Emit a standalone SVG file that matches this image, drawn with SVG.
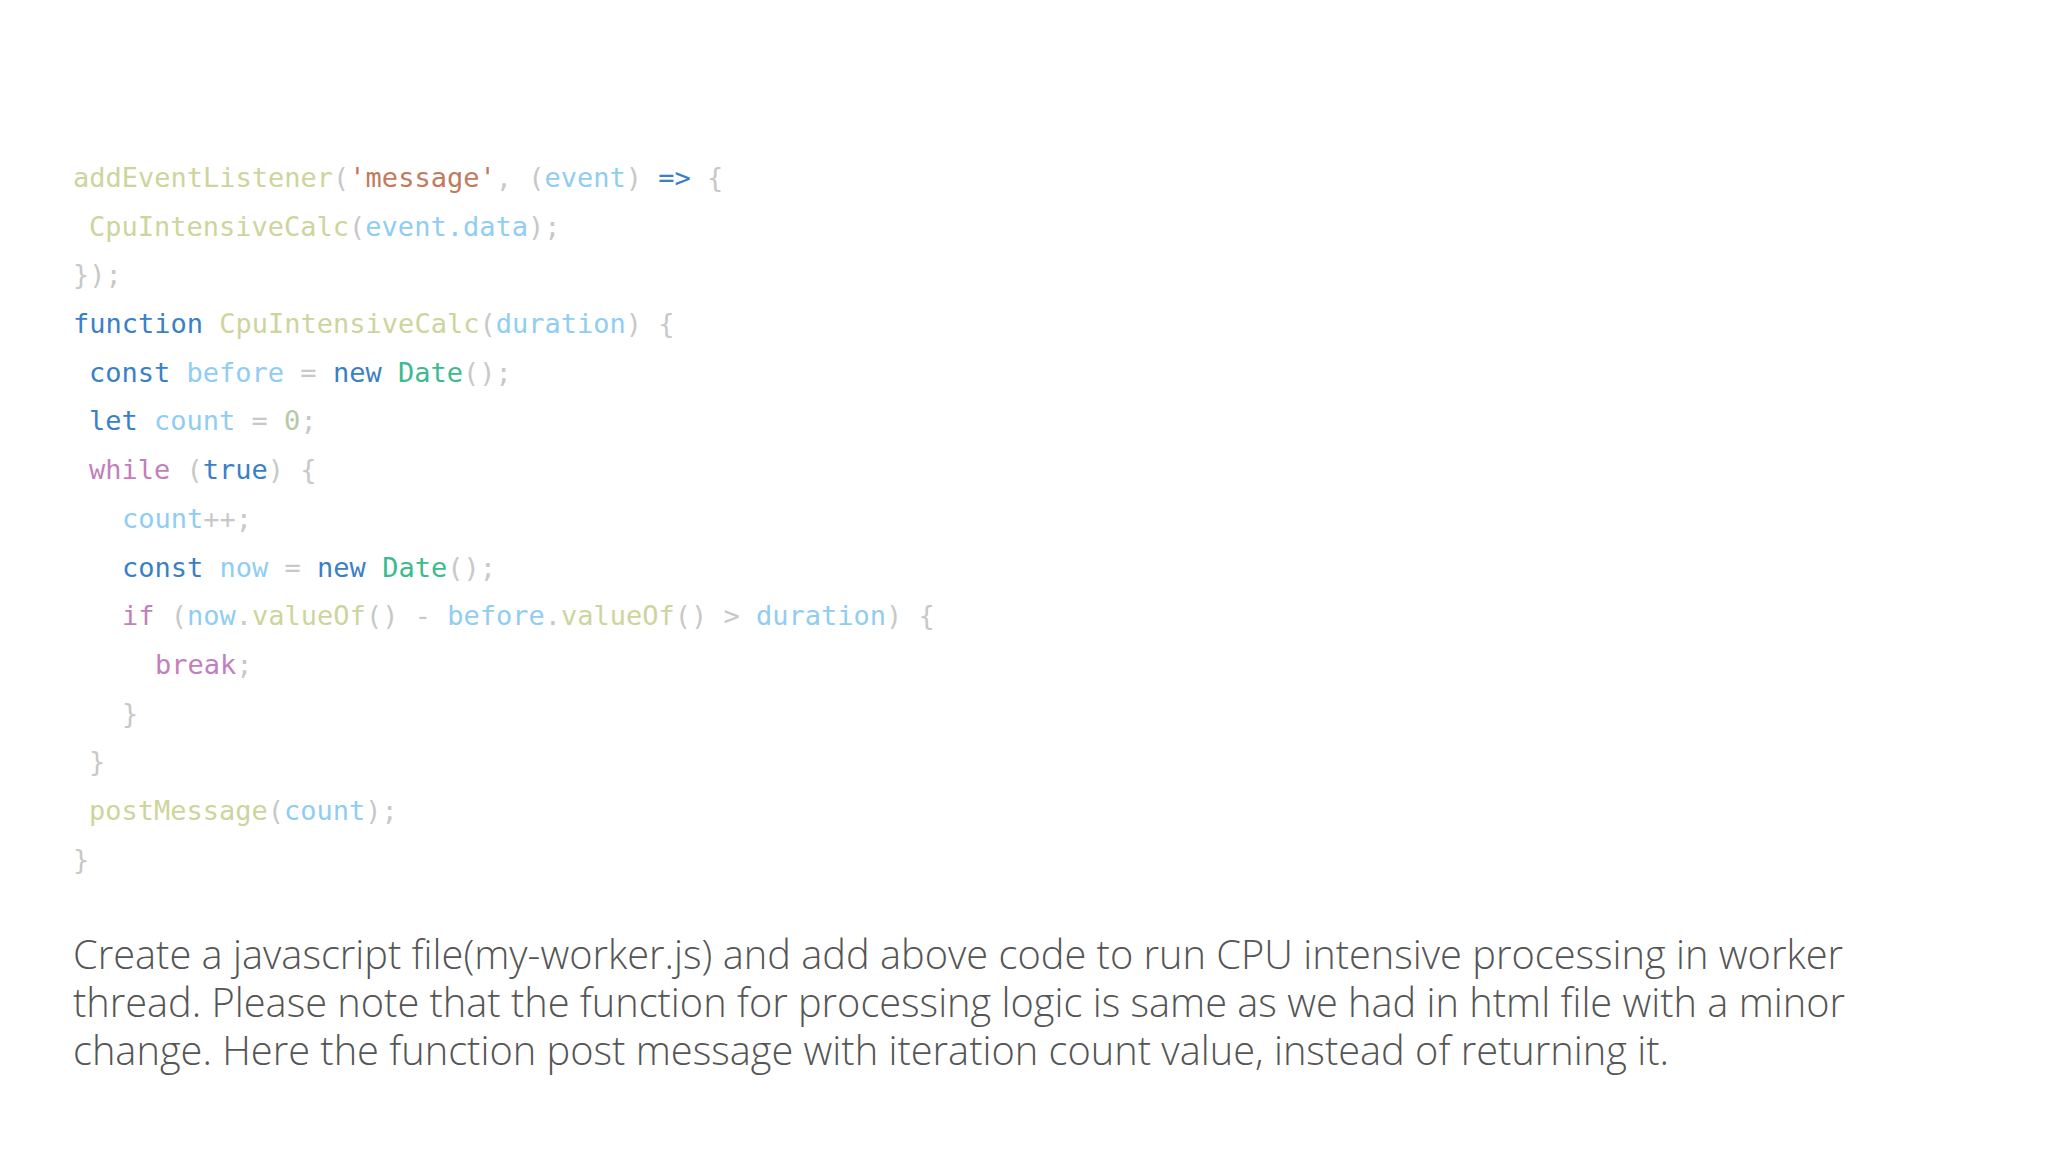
<svg xmlns="http://www.w3.org/2000/svg" width="2048" height="1152" viewBox="0 0 2048 1152">
<style>
.c{font-family:"DejaVu Sans Mono","Liberation Mono",monospace;font-size:27px;fill:#c8c8c8}
.f{fill:#cdd49c}.s{fill:#c27a5c}.v{fill:#8fcdf2}.k{fill:#3a80c6}.t{fill:#3dba8e}.p{fill:#c27fbc}.n{fill:#b5c9a5}
.d{font-family:"Open Sans","Liberation Sans",sans-serif;font-weight:300;font-size:40px;fill:#555555}
</style>
<rect width="2048" height="1152" fill="#ffffff"/>
<g id="code" class="c">
<text x="73" y="187"><tspan class="f">addEventListener</tspan>(<tspan class="s">'message'</tspan>, (<tspan class="v">event</tspan>) <tspan class="k">=&gt;</tspan> {</text>
<text x="89" y="236"><tspan class="f">CpuIntensiveCalc</tspan>(<tspan class="v">event.data</tspan>);</text>
<text x="73" y="284">});</text>
<text x="73" y="333"><tspan class="k">function</tspan> <tspan class="f">CpuIntensiveCalc</tspan>(<tspan class="v">duration</tspan>) {</text>
<text x="89" y="382"><tspan class="k">const</tspan> <tspan class="v">before</tspan> = <tspan class="k">new</tspan> <tspan class="t">Date</tspan>();</text>
<text x="89" y="430"><tspan class="k">let</tspan> <tspan class="v">count</tspan> = <tspan class="n">0</tspan>;</text>
<text x="89" y="479"><tspan class="p">while</tspan> (<tspan class="k">true</tspan>) {</text>
<text x="122" y="528"><tspan class="v">count</tspan>++;</text>
<text x="122" y="577"><tspan class="k">const</tspan> <tspan class="v">now</tspan> = <tspan class="k">new</tspan> <tspan class="t">Date</tspan>();</text>
<text x="122" y="625"><tspan class="p">if</tspan> (<tspan class="v">now</tspan>.<tspan class="f">valueOf</tspan>() - <tspan class="v">before</tspan>.<tspan class="f">valueOf</tspan>() &gt; <tspan class="v">duration</tspan>) {</text>
<text x="155" y="674"><tspan class="p">break</tspan>;</text>
<text x="122" y="723">}</text>
<text x="89" y="771">}</text>
<text x="89" y="820"><tspan class="f">postMessage</tspan>(<tspan class="v">count</tspan>);</text>
<text x="73" y="869">}</text>
</g>
<g id="description" class="d">
<text x="73" y="969" textLength="1770" lengthAdjust="spacingAndGlyphs">Create a javascript file(my-worker.js) and add above code to run CPU intensive processing in worker</text>
<text x="73" y="1017" textLength="1772" lengthAdjust="spacingAndGlyphs">thread. Please note that the function for processing logic is same as we had in html file with a minor</text>
<text x="73" y="1065" textLength="1596" lengthAdjust="spacingAndGlyphs">change. Here the function post message with iteration count value, instead of returning it.</text>
</g>
</svg>
